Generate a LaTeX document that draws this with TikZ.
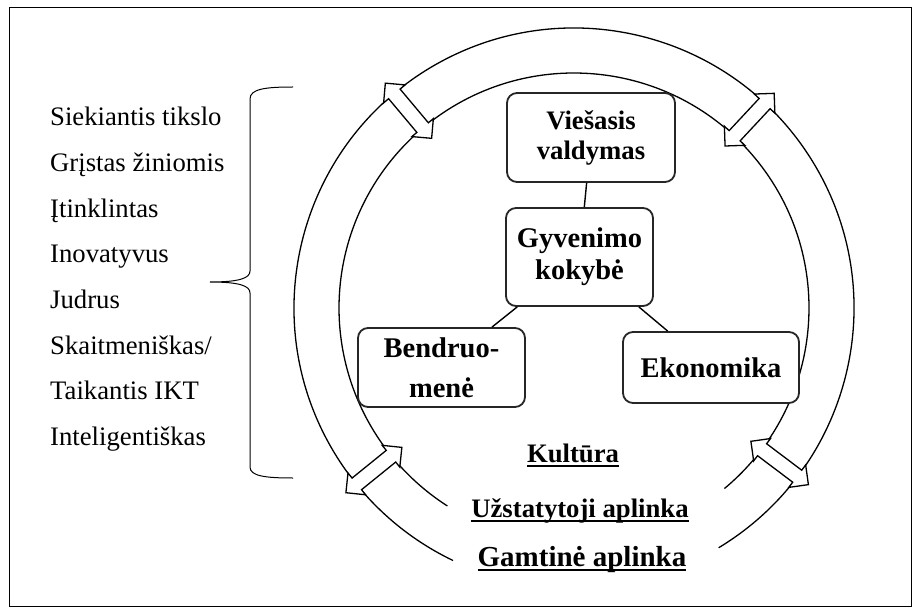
\documentclass[tikz,border=0pt]{standalone}
\usepackage{fontspec}
\setmainfont{Liberation Serif}
\newlength\ulw
\newcommand\myul[1]{\settowidth\ulw{#1}\rlap{\rule[-4.5pt]{\ulw}{1.8pt}}#1}
\begin{document}
\begin{tikzpicture}[x=1pt,y=1pt,
  ring/.style={line width=1.3pt},
  boxn/.style={draw=black!85, line width=1.8pt, rounded corners=10pt, fill=white, align=center, inner sep=0pt, font=\bfseries\fontsize{28.5}{32}\selectfont},
  link/.style={line width=1.4pt},
  listn/.style={anchor=base west, inner sep=0pt, font=\fontsize{26.7}{30}\selectfont},
  ultext/.style={anchor=base, inner sep=0pt, font=\bfseries\fontsize{26.7}{30}\selectfont}]
\useasboundingbox (0,0) rectangle (920,614);
\draw[line width=1pt] (9,8) rectangle (911,606);
\coordinate (C) at (574,306);
% ring
\draw[ring] (C) ++(-58.9:280) arc[start angle=-58.9, end angle=244.4, radius=280];
\draw[ring] (C) ++(-50.2:235) arc[start angle=-50.2, end angle=237.4, radius=235];
\foreach \a in {130,47,219,323} {
  \begin{scope}[shift={(C)}, rotate=\a]
    \draw[ring, fill=white] (293.5,0) -- (279.5,14) -- (279.5,7.5) -- (235.5,7.5) -- (235.5,14) -- (221.5,0)
      -- (235.5,-14) -- (235.5,-7.5) -- (279.5,-7.5) -- (279.5,-14) -- cycle;
  \end{scope}
}
% boxes
\node[boxn, minimum width=168pt, minimum height=89pt, font=\bfseries\fontsize{26.7}{30}\selectfont] (vv) at (591,476.5) {Viešasis\\valdymas};
\node[boxn, minimum width=147pt, minimum height=98pt] (gk) at (579.5,357) {Gyvenimo\\kokybė};
\node[boxn, minimum width=167pt, minimum height=79pt, font=\bfseries\fontsize{28.5}{40}\selectfont] (bm) at (441.5,246.5) {Bendruo-\\menė};
\node[boxn, minimum width=176pt, minimum height=71pt] (ek) at (711,246.5) {Ekonomika};
\draw[link] (gk) -- (vv);
\draw[link] (gk) -- (bm);
\draw[link] (gk) -- (ek);
% bottom labels
\node[ultext] (ku) at (573,152) {\myul{Kultūra}};
\node[ultext] (ua) at (580,97) {\myul{Užstatytoji aplinka}};
\node[ultext, font=\bfseries\fontsize{29}{32}\selectfont] (ga) at (582,48) {\myul{Gamtinė aplinka}};
% list
\foreach \t [count=\i] in {Siekiantis tikslo, Grįstas žiniomis, Įtinklintas, Inovatyvus, Judrus, Skaitmeniškas/, Taikantis IKT, Inteligentiškas} {
  \node[listn] (l\i) at (50,{488-45.6*(\i-1)}) {\t};
}
% brace
\draw[line width=1pt] (293,527) .. controls (265,527) and (250,525) .. (250,515) -- (250,343)
  .. controls (250,336) and (240,332) .. (210,332) .. controls (240,332) and (250,328) .. (250,321)
  -- (250,147) .. controls (250,138) and (265,136) .. (293,136);
\end{tikzpicture}
\end{document}
